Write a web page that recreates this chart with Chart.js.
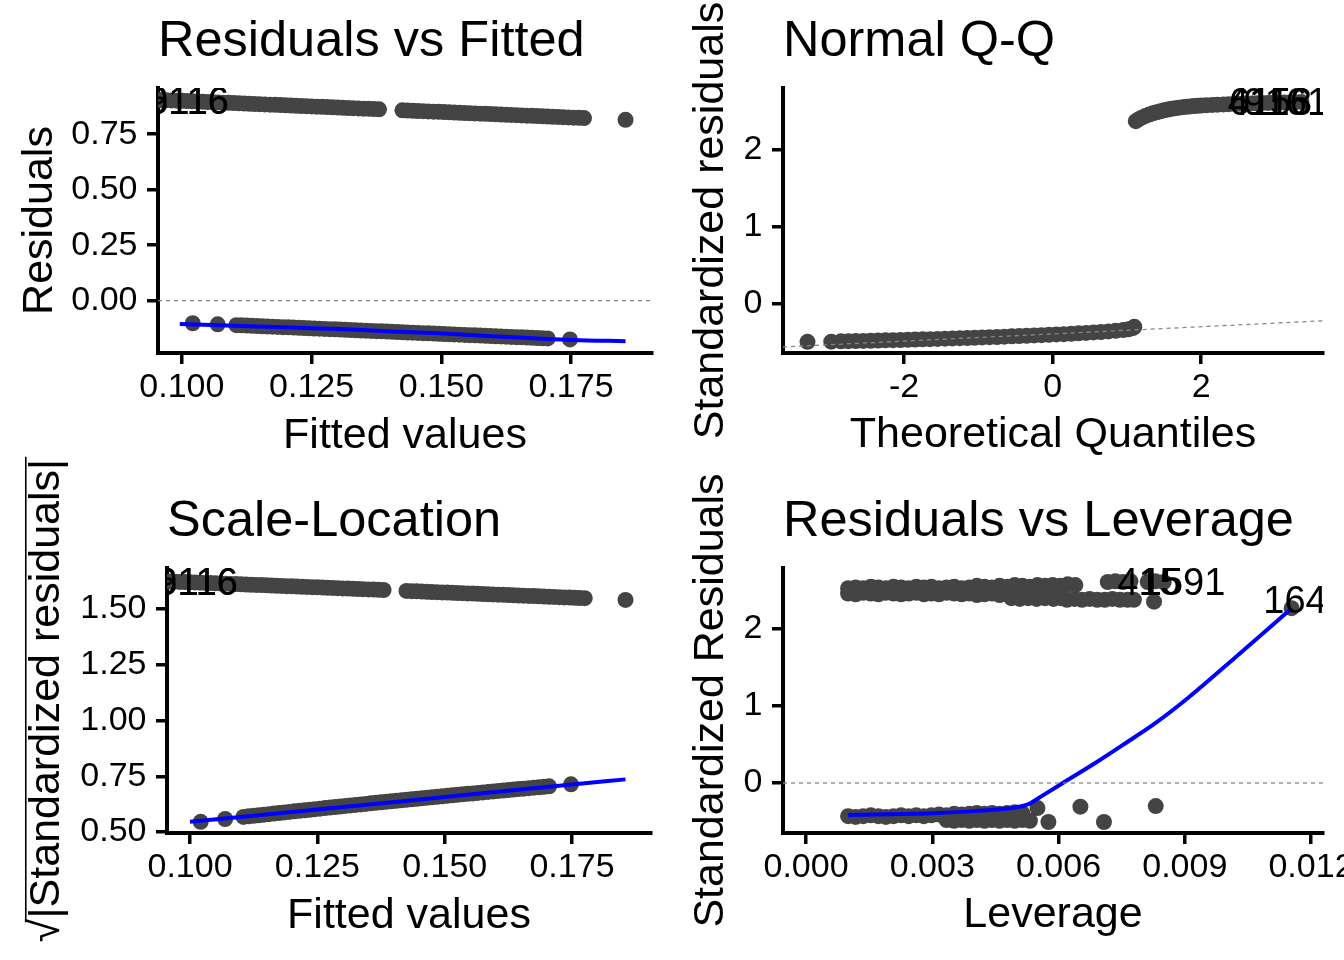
<!DOCTYPE html>
<html><head><meta charset="utf-8">
<script src="https://cdn.jsdelivr.net/npm/chart.js@4.4.0/dist/chart.umd.min.js"></script>
<style>
html,body{margin:0;padding:0;background:#fff;overflow:hidden;width:1344px;height:960px;position:relative;}
canvas{position:absolute;}
</style></head><body>
<canvas id="c1" width="672" height="480" style="left:0;top:0;width:672px;height:480px"></canvas>
<canvas id="c2" width="720" height="480" style="left:672px;top:0;width:720px;height:480px"></canvas>
<canvas id="c3" width="672" height="510" style="left:0;top:450px;width:672px;height:510px"></canvas>
<canvas id="c4" width="720" height="510" style="left:672px;top:450px;width:720px;height:510px"></canvas>
<script>
// ---------- Residuals vs Fitted ----------
const fittedUpper = [0.096,0.097,0.098,0.099,0.100,0.101,0.102,0.103,0.104,0.105,0.106,0.107,0.108,0.109,0.110,0.111,0.112,0.113,0.114,0.115,0.116,0.117,0.118,0.119,0.120,0.121,0.122,0.123,0.124,0.125,0.126,0.127,0.128,0.129,0.130,0.131,0.132,0.133,0.134,0.135,0.136,0.137,0.138,
  0.1425,0.1435,0.1445,0.1455,0.1465,0.1475,0.1485,0.1495,0.1505,0.1515,0.1525,0.1535,0.1545,0.1555,0.1565,0.1575,0.1585,0.1595,0.1605,0.1615,0.1625,0.1635,0.1645,0.1655,0.1665,0.1675,0.1685,0.1695,0.1705,0.1715,0.1725,0.1735,0.1745,0.1755,0.1765,0.1775,
  0.1855];
const residUpper = [0.904,0.903,0.902,0.901,0.900,0.899,0.898,0.897,0.896,0.895,0.894,0.893,0.892,0.891,0.890,0.889,0.888,0.887,0.886,0.885,0.884,0.883,0.882,0.881,0.880,0.879,0.878,0.877,0.876,0.875,0.874,0.873,0.872,0.871,0.870,0.869,0.868,0.867,0.866,0.865,0.864,0.863,0.862,
  0.8575,0.8565,0.8555,0.8545,0.8535,0.8525,0.8515,0.8505,0.8495,0.8485,0.8475,0.8465,0.8455,0.8445,0.8435,0.8425,0.8415,0.8405,0.8395,0.8385,0.8375,0.8365,0.8355,0.8345,0.8335,0.8325,0.8315,0.8305,0.8295,0.8285,0.8275,0.8265,0.8255,0.8245,0.8235,0.8225,
  0.8145];
const fittedLower = [0.1021,0.1069,
  0.1105,0.1115,0.1125,0.1135,0.1145,0.1155,0.1165,0.1175,0.1185,0.1195,0.1205,0.1215,0.1225,0.1235,0.1245,0.1255,0.1265,0.1275,0.1285,0.1295,0.1305,0.1315,0.1325,0.1335,0.1345,0.1355,0.1365,0.1375,0.1385,0.1395,0.1405,0.1415,0.1425,0.1435,0.1445,0.1455,0.1465,0.1475,0.1485,0.1495,0.1505,0.1515,0.1525,0.1535,0.1545,0.1555,0.1565,0.1575,0.1585,0.1595,0.1605,0.1615,0.1625,0.1635,0.1645,0.1655,0.1665,0.1675,0.1685,0.1695,0.1705,
  0.1748];
const residLower = [-0.1021,-0.1069,
  -0.1105,-0.1115,-0.1125,-0.1135,-0.1145,-0.1155,-0.1165,-0.1175,-0.1185,-0.1195,-0.1205,-0.1215,-0.1225,-0.1235,-0.1245,-0.1255,-0.1265,-0.1275,-0.1285,-0.1295,-0.1305,-0.1315,-0.1325,-0.1335,-0.1345,-0.1355,-0.1365,-0.1375,-0.1385,-0.1395,-0.1405,-0.1415,-0.1425,-0.1435,-0.1445,-0.1455,-0.1465,-0.1475,-0.1485,-0.1495,-0.1505,-0.1515,-0.1525,-0.1535,-0.1545,-0.1555,-0.1565,-0.1575,-0.1585,-0.1595,-0.1605,-0.1615,-0.1625,-0.1635,-0.1645,-0.1655,-0.1665,-0.1675,-0.1685,-0.1695,-0.1705,
  -0.1748];
const rvfSmoothX = [0.0996,0.1131,0.1221,0.1317,0.1407,0.1496,0.1586,0.1676,0.1753,0.1855];
const rvfSmoothY = [-0.105,-0.115,-0.122,-0.1295,-0.139,-0.147,-0.159,-0.169,-0.177,-0.183];
const rvfZeroX = [0.0954,0.1906];
const rvfZeroY = [0,0];
const rvfLabelText = ['6116','9116'];
const rvfLabelX = [0.1012,0.1012];
const rvfLabelY = [0.888,0.888];
const fittedTicks = [0.100,0.125,0.150,0.175];
const fittedTickLabels = ['0.100','0.125','0.150','0.175'];
const rvfYTicks = [0,0.25,0.5,0.75];
const rvfYTickLabels = ['0.00','0.25','0.50','0.75'];

// ---------- Normal Q-Q ----------
const qqLowX = [-3.30,-2.98,-2.85,-2.75,-2.65,-2.55,-2.45,-2.35,-2.25,-2.15,-2.05,-1.95,-1.85,-1.75,-1.65,-1.55,-1.45,-1.35,-1.25,-1.15,-1.05,-0.95,-0.85,-0.75,-0.65,-0.55,-0.45,-0.35,-0.25,-0.15,-0.05,0.05,0.15,0.25,0.35,0.45,0.55,0.65,0.75,0.85,0.95,1.02,1.08,1.10];
const qqLowY = [-0.490,-0.488,-0.484,-0.482,-0.480,-0.478,-0.476,-0.473,-0.471,-0.468,-0.466,-0.463,-0.461,-0.458,-0.455,-0.452,-0.449,-0.446,-0.443,-0.440,-0.437,-0.433,-0.430,-0.427,-0.423,-0.419,-0.415,-0.411,-0.407,-0.403,-0.399,-0.394,-0.390,-0.385,-0.380,-0.374,-0.368,-0.362,-0.355,-0.347,-0.338,-0.328,-0.312,-0.295];
const qqHighX = [1.12,1.16,1.20,1.25,1.30,1.35,1.40,1.45,1.50,1.55,1.60,1.65,1.70,1.75,1.80,1.85,1.90,1.95,2.00,2.07,2.15,2.22,2.30,2.37,2.45,2.52,2.60,2.67,2.75,2.82,2.90,2.97,3.05,3.12,3.20,3.27,3.35];
const qqHighY = [2.375,2.400,2.420,2.443,2.460,2.476,2.490,2.503,2.515,2.526,2.535,2.543,2.550,2.556,2.562,2.566,2.570,2.574,2.578,2.581,2.585,2.588,2.592,2.595,2.598,2.600,2.603,2.605,2.607,2.609,2.611,2.613,2.615,2.617,2.619,2.621,2.624];
const qqLineX = [-3.63,3.64];
const qqLineY = [-0.557,-0.217];
const qqLabelText = ['6116','4153','9161'];
const qqLabelX = [2.926,2.926,3.14];
const qqLabelY = [2.597,2.597,2.597];
const qqXTicks = [-2,0,2];
const qqXTickLabels = ['-2','0','2'];
const stdYTicks = [0,1,2];
const stdYTickLabels = ['0','1','2'];

// ---------- Scale-Location ----------
const sqrtStdUpper = [1.6235,1.6226,1.6217,1.6208,1.6199,1.6190,1.6180,1.6171,1.6162,1.6153,1.6144,1.6135,1.6126,1.6117,1.6108,1.6099,1.6090,1.6081,1.6072,1.6063,1.6054,1.6045,1.6036,1.6027,1.6018,1.6008,1.5999,1.5990,1.5981,1.5972,1.5963,1.5954,1.5945,1.5935,1.5926,1.5917,1.5908,1.5899,1.5889,1.5880,1.5871,1.5862,1.5853,
  1.5811,1.5802,1.5793,1.5784,1.5774,1.5765,1.5756,1.5746,1.5737,1.5728,1.5718,1.5709,1.5700,1.5691,1.5681,1.5672,1.5663,1.5653,1.5644,1.5635,1.5625,1.5616,1.5607,1.5597,1.5588,1.5579,1.5569,1.5560,1.5551,1.5541,1.5532,1.5522,1.5513,1.5504,1.5494,1.5485,
  1.5410];
const sqrtStdLower = [0.5456,0.5583,
  0.5676,0.5701,0.5726,0.5751,0.5776,0.5801,0.5826,0.5851,0.5876,0.5902,0.5927,0.5951,0.5975,0.5999,0.6023,0.6048,0.6072,0.6096,0.6120,0.6144,0.6168,0.6191,0.6214,0.6238,0.6261,0.6284,0.6307,0.6331,0.6354,0.6377,0.6400,0.6422,0.6445,0.6467,0.6490,0.6512,0.6534,0.6557,0.6579,0.6602,0.6624,0.6646,0.6667,0.6689,0.6711,0.6732,0.6754,0.6776,0.6797,0.6819,0.6841,0.6861,0.6882,0.6903,0.6924,0.6945,0.6966,0.6987,0.7008,0.7029,0.7050,
  0.7139];
const slSmoothX = [0.1000,0.1250,0.1500,0.1750,0.1855];
const slSmoothY = [0.546,0.601,0.657,0.713,0.736];
const slLabelText = ['6116','9116'];
const slLabelX = [0.1014,0.1014];
const slLabelY = [1.612,1.612];
const slYTicks = [0.5,0.75,1.0,1.25,1.5];
const slYTickLabels = ['0.50','0.75','1.00','1.25','1.50'];

// ---------- Residuals vs Leverage ----------
const levUpperX = [0.00100,0.00118,0.00136,0.00154,0.00172,0.00190,0.00208,0.00226,0.00244,0.00262,0.00280,0.00298,0.00316,0.00334,0.00352,0.00370,0.00388,0.00406,0.00424,0.00442,0.00460,0.00478,0.00496,0.00514,0.00532,0.00550,0.00568,0.00586,0.00604,0.00622,0.00640,
  0.00100,0.00118,0.00136,0.00154,0.00172,0.00190,0.00208,0.00226,0.00244,0.00262,0.00280,0.00298,0.00316,0.00334,0.00352,0.00370,0.00388,0.00406,0.00424,0.00442,0.00460,0.00478,
  0.00488,0.00508,0.00528,0.00548,0.00568,0.00588,0.00606,0.00620,0.00638,0.00656,0.00674,0.00692,0.00710,0.00728,0.00746,0.00764,0.00779,
  0.00717,0.00735,0.00753,0.00771,0.00812,0.00830,0.00850,0.00827,0.01154];
const levUpperY = [2.53,2.54,2.53,2.55,2.54,2.53,2.55,2.54,2.53,2.55,2.54,2.55,2.53,2.54,2.55,2.53,2.54,2.56,2.55,2.54,2.56,2.55,2.57,2.56,2.55,2.57,2.56,2.57,2.56,2.58,2.57,
  2.46,2.45,2.47,2.46,2.45,2.47,2.46,2.45,2.46,2.47,2.45,2.46,2.45,2.47,2.46,2.45,2.46,2.44,2.45,2.46,2.44,2.45,
  2.40,2.39,2.40,2.39,2.40,2.39,2.40,2.38,2.39,2.38,2.39,2.38,2.38,2.39,2.38,2.38,2.38,
  2.61,2.62,2.61,2.62,2.61,2.62,2.61,2.355,2.27];
const levLowerX = [0.00100,0.00118,0.00136,0.00154,0.00172,0.00190,0.00208,0.00226,0.00244,0.00262,0.00280,0.00298,0.00316,0.00334,0.00352,0.00370,0.00388,0.00406,0.00424,0.00442,0.00460,0.00478,0.00496,0.00514,
  0.00334,0.00352,0.00370,0.00388,0.00406,0.00424,0.00442,0.00460,0.00478,0.00496,0.00514,0.00532,
  0.00550,0.00576,0.00652,0.00708,0.00831];
const levLowerY = [-0.43,-0.44,-0.43,-0.42,-0.43,-0.44,-0.43,-0.42,-0.43,-0.42,-0.43,-0.42,-0.41,-0.42,-0.40,-0.41,-0.40,-0.39,-0.40,-0.39,-0.40,-0.39,-0.38,-0.39,
  -0.48,-0.49,-0.48,-0.49,-0.48,-0.49,-0.48,-0.49,-0.48,-0.49,-0.48,-0.49,
  -0.325,-0.506,-0.307,-0.506,-0.300];
const levSmoothX = [0.00100,0.00200,0.00300,0.00400,0.00500,0.00530,0.00560,0.00615,0.00693,0.00760,0.00831,0.00909,0.01020,0.01154];
const levSmoothY = [-0.415,-0.405,-0.392,-0.365,-0.315,-0.27,-0.17,0.017,0.28,0.52,0.78,1.11,1.63,2.27];
const levZeroX = [-0.000547,0.012285];
const levZeroY = [0,0];
const levLabelText = ['415','1591','164'];
const levLabelX = [0.00815,0.00896,0.01162];
const levLabelY = [2.584,2.584,2.344];
const levXTicks = [0,0.003,0.006,0.009,0.012];
const levXTickLabels = ['0.000','0.003','0.006','0.009','0.012'];

// ---------- helpers ----------
const FONT = "'Liberation Sans', Arial, Helvetica, sans-serif";
Chart.defaults.font.family = FONT;
Chart.defaults.color = '#000';

function pts(xs, ys){ return xs.map((x,i)=>({x:x, y:ys[i]})); }
function pointSet(xs, ys){
  return {data:pts(xs,ys), pointRadius:8, pointHoverRadius:8, backgroundColor:'#444444', pointBorderWidth:0, borderWidth:0, order:2};
}
function smoothSet(xs, ys){
  return {data:pts(xs,ys), showLine:true, borderColor:'#0000ff', borderWidth:4, pointRadius:0, cubicInterpolationMode:'monotone', order:1};
}
function dashSet(xs, ys){
  return {data:pts(xs,ys), showLine:true, borderColor:'#888888', borderWidth:1.3, borderDash:[4,4], pointRadius:0, order:0};
}
function labelPlugin(xs, ys, texts){
  return {id:'obsLabels', afterDatasetsDraw(chart){
    const a = chart.chartArea, sx = chart.scales.x, sy = chart.scales.y, ctx = chart.ctx;
    ctx.save();
    ctx.beginPath(); ctx.rect(a.left, a.top, a.right-a.left, a.bottom-a.top); ctx.clip();
    ctx.font = '38px ' + FONT; ctx.fillStyle = '#000'; ctx.textAlign = 'center'; ctx.textBaseline = 'middle';
    texts.forEach((t,i)=>ctx.fillText(t, sx.getPixelForValue(xs[i]), sy.getPixelForValue(ys[i])));
    ctx.restore();
  }};
}
// overbar of the square-root sign in the Scale-Location y title
function radicalPlugin(titlePad){
  return {id:'radical', afterDraw(chart){
    const s = chart.scales.y, ctx = chart.ctx, f = 43;
    const text = s.options.title.text;
    ctx.save();
    ctx.font = f + 'px ' + FONT;
    const w = ctx.measureText(text).width, wr = ctx.measureText('\u221A').width;
    const xc = s.left + titlePad + f*1.2/2;
    const yc = (s.top + s.bottom)/2;
    const xBar = xc + 0.3465*f - 0.84*f;
    ctx.strokeStyle = '#000'; ctx.lineWidth = 1.6;
    ctx.beginPath(); ctx.moveTo(xBar, yc + w/2 - wr*0.85); ctx.lineTo(xBar, yc - w/2 - 2); ctx.stroke();
    ctx.restore();
  }};
}
function axisCommon(){
  return {
    grid:{drawOnChartArea:false, drawTicks:true, tickLength:11, tickWidth:3.5, tickColor:'#000', color:'#000', lineWidth:3.5},
    border:{display:true, color:'#000', width:4}
  };
}
function makePanel(id, o){
  const xc = axisCommon(), yc = axisCommon();
  const plugins = [labelPlugin(o.labelX, o.labelY, o.labelText)];
  if (o.radical) plugins.push(radicalPlugin(o.yTitlePad));
  return new Chart(document.getElementById(id), {
    type:'scatter',
    data:{datasets:o.datasets},
    options:{
      responsive:false, animation:false, devicePixelRatio:1,
      layout:{padding:{left:0, top:o.padTop, right:o.padRight, bottom:0}},
      plugins:{
        legend:{display:false}, tooltip:{enabled:false},
        title:{display:true, text:o.title, align:'start', fullSize:false, color:'#000',
          font:{size:50.5, weight:'normal', family:FONT, lineHeight:1.2}, padding:{top:11.4, bottom:16}}
      },
      scales:{
        x:Object.assign(xc, {type:'linear', position:'bottom', min:o.xMin, max:o.xMax,
          afterBuildTicks:s=>{ s.ticks = o.xTicks.map(v=>({value:v})); },
          afterFit:s=>{ s.height = 127; },
          ticks:{autoSkip:false, maxRotation:0, minRotation:0, padding:3.6, color:'#000', font:{size:34, family:FONT}, callback:(v,i)=>o.xTickLabels[i]},
          title:{display:true, text:o.xTitle, color:'#000', font:{size:43, family:FONT}, padding:{top:0, bottom:o.xTitlePad}}}),
        y:Object.assign(yc, {type:'linear', position:'left', min:o.yMin, max:o.yMax,
          afterBuildTicks:s=>{ s.ticks = o.yTicks.map(v=>({value:v})); },
          afterFit:s=>{ s.width = o.yAxisW; },
          ticks:{autoSkip:false, padding:9.5, color:'#000', font:{size:34, family:FONT}, callback:(v,i)=>o.yTickLabels[i]},
          title:{display:true, text:o.yTitle, color:'#000', font:{size:43, family:FONT}, padding:{top:o.yTitlePad, bottom:0}}})
      }
    },
    plugins:plugins
  });
}

makePanel('c1', {
  title:'Residuals vs Fitted', xTitle:'Fitted values', yTitle:'Residuals',
  xMin:0.0954, xMax:0.1906, yMin:-0.236, yMax:0.958,
  xTicks:fittedTicks, xTickLabels:fittedTickLabels, yTicks:rvfYTicks, yTickLabels:rvfYTickLabels,
  padTop:0, padRight:20, yAxisW:158, yTitlePad:14.2, xTitlePad:18.2,
  labelX:rvfLabelX, labelY:rvfLabelY, labelText:rvfLabelText,
  datasets:[dashSet(rvfZeroX,rvfZeroY), smoothSet(rvfSmoothX,rvfSmoothY), pointSet(fittedUpper,residUpper), pointSet(fittedLower,residLower)]
});
makePanel('c2', {
  title:'Normal Q-Q', xTitle:'Theoretical Quantiles', yTitle:'Standardized residuals',
  xMin:-3.63, xMax:3.64, yMin:-0.635, yMax:2.805,
  xTicks:qqXTicks, xTickLabels:qqXTickLabels, yTicks:stdYTicks, yTickLabels:stdYTickLabels,
  padTop:0, padRight:69, yAxisW:111, yTitlePad:13.2, xTitlePad:19.2,
  labelX:qqLabelX, labelY:qqLabelY, labelText:qqLabelText,
  datasets:[dashSet(qqLineX,qqLineY), pointSet(qqLowX,qqLowY), pointSet(qqHighX,qqHighY)]
});
makePanel('c3', {
  title:'Scale-Location', xTitle:'Fitted values', yTitle:'\u221A|Standardized residuals|',
  xMin:0.09548, xMax:0.19051, yMin:0.4955, yMax:1.684,
  xTicks:fittedTicks, xTickLabels:fittedTickLabels, yTicks:slYTicks, yTickLabels:slYTickLabels,
  padTop:30, padRight:21, yAxisW:167, yTitlePad:21.2, xTitlePad:18.2, radical:true,
  labelX:slLabelX, labelY:slLabelY, labelText:slLabelText,
  datasets:[smoothSet(slSmoothX,slSmoothY), pointSet(fittedUpper,sqrtStdUpper), pointSet(fittedLower,sqrtStdLower)]
});
makePanel('c4', {
  title:'Residuals vs Leverage', xTitle:'Leverage', yTitle:'Standardized Residuals',
  xMin:-0.000547, xMax:0.012285, yMin:-0.649, yMax:2.792,
  xTicks:levXTicks, xTickLabels:levXTickLabels, yTicks:stdYTicks, yTickLabels:stdYTickLabels,
  padTop:30, padRight:69, yAxisW:111, yTitlePad:13.2, xTitlePad:19.2,
  labelX:levLabelX, labelY:levLabelY, labelText:levLabelText,
  datasets:[dashSet(levZeroX,levZeroY), smoothSet(levSmoothX,levSmoothY), pointSet(levUpperX,levUpperY), pointSet(levLowerX,levLowerY)]
});
</script>
</body></html>
